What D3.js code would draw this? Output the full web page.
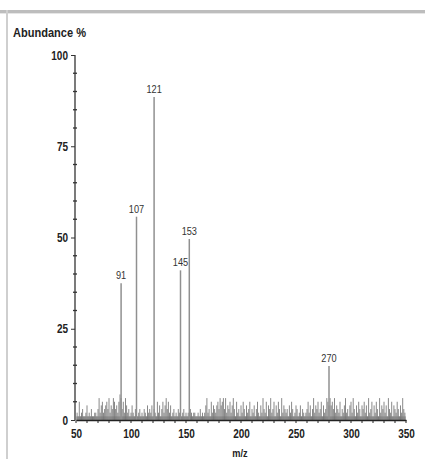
<!DOCTYPE html>
<html><head><meta charset="utf-8">
<script src="https://cdn.jsdelivr.net/npm/d3@7"></script>
<style>
html,body{margin:0;padding:0;background:#fff;}
svg{display:block;}
text{font-family:"Liberation Sans Narrow","Arial Narrow","Liberation Sans",sans-serif;}
</style></head>
<body>
<svg id="c" width="425" height="459"></svg>
<script>
// Labelled fragment peaks (position on the m/z axis as drawn, label, abundance %)
const peakMz = [91, 105, 121, 145, 153, 280];
const peakLabels = ["91", "107", "121", "145", "153", "270"];
const peakAbund = [37.5, 55.7, 88.5, 41, 49.6, 14.8];

// Background noise, one value per m/z from 51 to 349
const noiseStart = 51;
const noiseAbund = [
  2,1,5,1,2,3,1,1,2,4,
  1,2,1,3,1,1,2,2,1,3,
  6,2,4,5,2,3,4,5,3,6,
  2,4,3,6,5,3,4,2,5,7,
  6,3,5,2,6,4,2,3,1,2,
  4,2,1,3,2,1,2,3,1,2,
  1,3,2,1,4,2,3,2,4,1,
  3,2,1,5,2,4,1,3,5,2,
  4,6,3,5,2,4,1,2,3,1,
  2,1,3,2,2,1,2,3,1,2,
  1,2,1,3,2,1,2,2,1,1,
  2,1,3,1,2,1,2,4,6,2,
  3,1,5,2,4,3,2,4,5,3,
  6,4,5,6,3,6,2,4,3,5,
  2,4,6,3,1,5,2,3,1,4,
  2,5,3,1,4,2,3,5,1,3,
  2,4,1,3,5,2,1,4,2,6,
  3,2,5,1,4,3,6,2,3,5,
  1,4,2,5,3,1,6,2,4,3,
  2,3,1,4,2,5,3,1,2,4,
  3,1,2,4,1,3,2,1,2,3,
  5,2,4,1,3,6,2,4,3,5,
  2,3,5,1,4,2,3,6,5,4,
  6,4,5,3,6,2,4,3,2,5,
  1,3,2,4,6,2,3,1,4,5,
  2,6,3,1,4,2,5,3,1,4,
  3,5,2,4,1,6,2,3,5,1,
  4,2,5,3,1,6,2,4,3,5,
  2,4,1,6,3,2,5,1,4,3,
  2,5,3,1,4,2,6,3,2
];

const xTicks = [50, 100, 150, 200, 250, 300, 350];
const yTicks = [0, 25, 50, 75, 100];
const yTickLabels = ["0", "25", "50", "75", "100"];
const yTitle = "Abundance %";
const xTitle = "m/z";

const svg = d3.select("#c");

// frame lines (from the screenshot border)
svg.append("rect").attr("x", 0).attr("y", 10).attr("width", 425).attr("height", 3).attr("fill", "#bdbdbd");
svg.append("rect").attr("x", 0).attr("y", 13).attr("width", 425).attr("height", 1).attr("fill", "#e6e6e6");
svg.append("rect").attr("x", 6).attr("y", 10).attr("width", 2).attr("height", 449).attr("fill", "#cfcfcf");

const x = d3.scaleLinear().domain([50, 350]).range([76, 406]);
const y = d3.scaleLinear().domain([0, 100]).range([420, 55]);

// baseline noise band
svg.append("rect").attr("x", x(50)).attr("y", y(1)).attr("width", x(350) - x(50)).attr("height", y(0) - y(1))
  .attr("fill", "#777").attr("opacity", 0.5);

// noise
const noise = noiseAbund.map((v, i) => ({mz: noiseStart + i, a: v}));
svg.append("g").selectAll("line").data(noise).join("line")
  .attr("x1", d => x(d.mz)).attr("x2", d => x(d.mz))
  .attr("y1", y(0)).attr("y2", d => y(d.a))
  .attr("stroke", "#6a6a6a").attr("stroke-width", 0.8);

// peaks
const peaks = peakMz.map((m, i) => ({mz: m, label: peakLabels[i], a: peakAbund[i]}));
svg.append("g").selectAll("line").data(peaks).join("line")
  .attr("x1", d => x(d.mz)).attr("x2", d => x(d.mz))
  .attr("y1", y(0)).attr("y2", d => y(d.a))
  .attr("stroke", "#909090").attr("stroke-width", 1.5);
svg.append("g").attr("class", "narrow").selectAll("text").data(peaks).join("text")
  .attr("x", d => x(d.mz)).attr("y", d => y(d.a) - 4)
  .attr("text-anchor", "middle").attr("font-size", 11.5).attr("fill", "#333")
  .text(d => d.label);

// x axis
const xAxis = d3.axisBottom(x).tickValues(xTicks).tickSize(0).tickPadding(9);
const gx = svg.append("g").attr("class", "narrow").attr("transform", `translate(0,${y(0)})`).call(xAxis);
gx.select(".domain").attr("stroke", "#222").attr("stroke-width", 1.3);
gx.selectAll("text").attr("font-size", 12.5).attr("font-weight", "bold").attr("fill", "#222")
  .attr("font-family", null);
// minor x ticks
const xMinor = d3.range(50, 351, 10);
svg.append("g").selectAll("line").data(xMinor).join("line")
  .attr("x1", d => x(d)).attr("x2", d => x(d)).attr("y1", y(0)).attr("y2", y(0) + 3)
  .attr("stroke", "#222").attr("stroke-width", 1);

// y axis
const yAxis = d3.axisLeft(y).tickValues(yTicks).tickSize(4).tickPadding(3)
  .tickFormat((d, i) => yTickLabels[i]);
const gy = svg.append("g").attr("class", "narrow").attr("transform", `translate(${x(50) - 1},0)`).call(yAxis);
gy.select(".domain").attr("stroke", "#333").attr("stroke-width", 1.3).attr("d", `M0,${y(100)}V${y(0)}`);
gy.selectAll(".tick line").attr("stroke", "#333");
gy.selectAll("text").attr("font-size", 12.5).attr("font-weight", "bold").attr("fill", "#222")
  .attr("font-family", null);
// minor y ticks
const yMinor = d3.range(5, 100, 5).filter(v => v % 25 !== 0);
svg.append("g").selectAll("line").data(yMinor).join("line")
  .attr("x1", x(50) - 3).attr("x2", x(50) + 1).attr("y1", d => y(d)).attr("y2", d => y(d))
  .attr("stroke", "#333").attr("stroke-width", 1.3);

// titles
const titles = svg.append("g").attr("class", "narrow");
titles.append("text").attr("x", 13).attr("y", 37).attr("font-size", 12).attr("font-weight", "bold")
  .attr("fill", "#222").attr("data-w", 0.92).text(yTitle);
titles.append("text").attr("x", 240).attr("y", 457).attr("text-anchor", "middle").attr("font-size", 11.5)
  .attr("font-weight", "bold").attr("fill", "#222").text(xTitle);

// condense texts (narrow typeface look)
svg.selectAll(".narrow text").each(function() {
  const len = this.getComputedTextLength();
  const f = +(this.getAttribute("data-w") || 0.8);
  d3.select(this).attr("textLength", len * f).attr("lengthAdjust", "spacingAndGlyphs");
});
</script>
</body></html>
